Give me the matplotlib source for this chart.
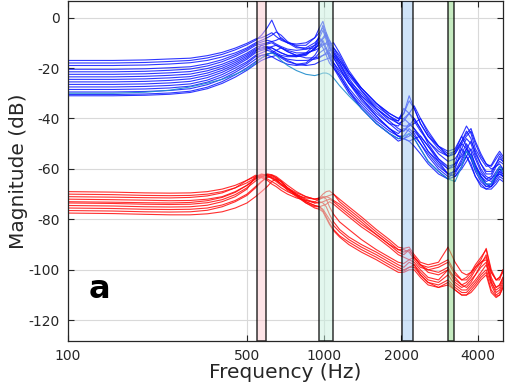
import matplotlib
matplotlib.use("Agg")
import matplotlib.pyplot as plt

# ---------------- data ----------------
FREQ = [100, 150, 200, 250, 300, 350, 400, 450, 500, 540, 570, 600, 625, 650, 680, 720,
        780, 850, 920, 960, 990, 1020, 1050, 1090, 1150, 1250, 1400, 1600, 1800, 1950,
        2050, 2150, 2250, 2380, 2550, 2800, 3050, 3250, 3450, 3600, 3750, 3900, 4100,
        4300, 4500, 4700, 4850, 5000]

blue_01 = [-17, -17, -16.8, -16.4, -16.1, -15.1, -13.8, -12.1, -10.2, -8.5, -8, -7, -6, -7.5, -9, -10,
           -10.5, -10, -8, -6, -4, -8, -12, -14, -17, -22, -28, -34, -38, -40,
           -38, -33, -36, -42, -47, -51, -53, -52, -47, -43, -46, -52, -56, -59, -58.5, -55, -53, -55]
blue_02 = [-18, -18, -17.8, -17.4, -17, -16, -14.6, -12.8, -10.8, -9, -7, -4, -1, -5, -8.5, -10,
           -11, -11, -8, -4, -1.5, -6, -11, -15, -19, -25, -30, -36, -40, -41,
           -36, -38, -41, -45, -49, -53, -55, -54, -50, -47, -45, -50, -55, -58, -59, -56, -54, -56]
blue_03 = [-19, -19, -18.8, -18.4, -17.9, -17, -15.6, -14, -12, -10, -9, -8, -7, -5.7, -7, -9.5,
           -11.5, -12.5, -12, -11, -10.5, -10.5, -10.5, -10, -14, -21, -28, -34, -38, -40,
           -40, -38, -35, -40, -46, -51, -54, -53, -49, -45, -48, -54, -58, -61, -61, -58, -56, -57]
blue_04 = [-20.5, -20.5, -20.3, -19.9, -19.5, -18.3, -16.7, -14.7, -12.5, -10.5, -9.7, -9, -9.5, -10.5, -11.5, -12.5,
           -13, -12.5, -11, -9.5, -8, -6, -9, -13, -17, -23, -29, -35, -39, -41,
           -38, -31, -36, -42, -47, -52, -55, -54, -49, -46, -44, -49, -54, -58, -60, -59, -57, -58]
blue_05 = [-21.5, -21.5, -21.3, -20.9, -20.4, -19.2, -17.5, -15.4, -13.1, -11, -10.5, -10, -9.5, -9, -8, -10,
           -12, -12, -10, -8, -10, -13, -16, -18, -21, -26, -31, -36, -40, -42,
           -43, -43, -42, -40, -45, -51, -55, -53, -47, -51, -55, -59, -62, -64, -63, -59, -58, -60]
blue_06 = [-22.5, -22.5, -22.3, -21.9, -21.4, -20.2, -18.5, -16.4, -14.1, -12, -11, -10.5, -10, -11, -12, -13,
           -14, -14, -13, -12, -11, -10, -9, -12, -16, -22, -28, -34, -39, -42,
           -41, -38, -40, -44, -49, -54, -57, -56, -52, -48, -50, -55, -60, -63, -64, -62, -60, -61]
blue_07 = [-23.5, -23.5, -23.3, -22.9, -22.4, -21.1, -19.3, -17.1, -14.7, -12.5, -12, -11.5, -12, -13, -14, -15,
           -15, -14, -11, -7, -3, -7, -12, -16, -20, -26, -32, -38, -42, -43,
           -40, -42, -44, -47, -51, -56, -59, -58, -55, -52, -49, -53, -58, -62, -62, -58, -55, -57]
blue_08 = [-24.5, -24.5, -24.3, -23.9, -23.4, -22, -20.1, -17.8, -15.3, -13, -12.5, -12, -11.5, -11, -12, -13.5,
           -15, -16, -16, -15.5, -15, -14, -13, -12, -15, -22, -29, -36, -41, -44,
           -45, -43, -40, -44, -50, -56, -60, -59, -54, -50, -53, -59, -63, -66, -66, -63, -61, -62]
blue_09 = [-25.5, -25.5, -25.3, -24.9, -24.3, -22.9, -20.9, -18.5, -15.9, -13.5, -11, -12, -13, -14, -15, -15.5,
           -15.5, -14.5, -12.5, -10, -8.5, -7, -10, -14, -18, -24, -31, -37, -42, -45,
           -45, -42, -44, -48, -53, -57, -60, -58, -50, -52, -56, -60, -63, -65, -64, -61, -59, -60]
blue_10 = [-26.5, -26.5, -26.3, -25.9, -25.3, -23.8, -21.7, -19.2, -16.5, -14, -13, -12.5, -12, -13, -14, -15,
           -15.5, -15, -12, -8, -5, -9, -14, -18, -22, -28, -34, -40, -44, -46,
           -44, -45, -47, -50, -54, -59, -62, -61, -58, -55, -52, -56, -61, -64, -65, -63, -62, -63]
blue_11 = [-27.5, -27.5, -27.3, -26.9, -26.3, -24.8, -22.6, -20, -17.5, -15, -14, -13, -13.5, -14.5, -15.5, -16.5,
           -17, -17, -16.5, -16, -15, -14.5, -14, -16, -20, -26, -33, -39, -44, -47,
           -48, -47, -45, -48, -53, -58, -62, -61, -56, -52, -55, -60, -64, -67, -66, -62, -60, -62]
blue_12 = [-28.5, -28.5, -28.3, -27.9, -27.2, -25.6, -23.5, -20.9, -18.1, -15.5, -15, -14.5, -14, -13, -12, -13.5,
           -15, -14.5, -12.5, -10, -12, -15, -18, -20, -23, -29, -35, -41, -45, -47,
           -47, -44, -46, -50, -55, -60, -63, -62, -57, -53, -56, -61, -65, -67, -67, -64, -62, -63]
blue_13 = [-29.5, -29.5, -29.3, -28.9, -28.2, -26.6, -24.4, -21.7, -18.9, -16.5, -15, -14.5, -14, -14.5, -15.5, -17,
           -18.5, -19, -18.5, -17.5, -17, -16.5, -16, -15, -18, -25, -32, -39, -44, -47,
           -48, -49, -48, -47, -51, -57, -62, -63, -60, -57, -54, -58, -63, -66, -67, -65, -63, -64]
blue_14 = [-30.5, -30.5, -30.3, -29.9, -29.2, -27.6, -25.4, -22.7, -19.9, -17.5, -16, -15, -15.5, -16.5, -17.5, -18.5,
           -19, -18.5, -16, -14, -13, -12, -15, -19, -23, -29, -36, -42, -46, -48,
           -48, -46, -48, -52, -57, -61, -64, -63, -59, -55, -58, -63, -67, -68, -68, -66, -64, -65]
blue_15 = [-31, -31, -30.8, -30.4, -29.7, -28.2, -26.1, -23.6, -20.9, -18.5, -17, -16, -15.5, -15, -16, -17.5,
           -18.5, -18, -15, -12, -9, -12, -16, -20, -24, -30, -36, -42, -46, -49,
           -48, -49, -51, -54, -58, -62, -64, -60, -52, -55, -59, -63, -66, -68, -67, -63, -61, -63]
teal_01 = [-30, -30, -29.6, -28.8, -27.5, -26, -24.5, -22.5, -20.5, -18, -16, -14.5, -14, -15, -17, -19,
           -21, -22.5, -23, -22.5, -22, -22, -22.5, -24, -27, -31, -36, -42, -46, -48,
           -47, -46, -48, -52, -57, -61, -64, -65, -59, -53, -55, -60, -64, -66, -66, -62, -59, -61]

red_01 = [-69, -69.2, -69.5, -69.6, -69.5, -69, -68, -66.5, -64.5, -63, -62, -62.5, -63.5, -64.5, -66, -67.5,
          -69.5, -71, -72, -71.5, -70, -69, -68.7, -70, -73, -76, -80, -85, -89, -92,
          -93, -92, -95, -98, -99, -98, -96, -101, -104, -103, -101, -98, -95, -92, -101, -104, -103, -100]
red_02 = [-70, -70.2, -70.5, -70.6, -70.5, -70, -69, -67.5, -65.5, -63.5, -62.5, -62, -62.3, -63, -64.5, -66.5,
          -69, -71, -72, -71.5, -71, -72, -75, -78, -81, -84, -88, -92, -95, -97,
          -97.5, -96, -97, -100, -103, -104, -100, -103, -106, -107, -105, -102, -98, -94, -103, -107, -106, -103]
red_03 = [-71, -71.2, -71.4, -71.5, -71.3, -70.7, -69.5, -67.5, -64.5, -62.5, -63, -64, -65, -66, -67.5, -69,
          -70.5, -71.5, -72, -72, -71.5, -71, -70.5, -70, -72, -75, -79, -84, -88, -91,
          -91.5, -91, -94, -97, -98, -97, -91, -97, -101, -102, -101, -99, -97, -95, -101, -104, -103, -101]
red_04 = [-72, -72.2, -72.4, -72.6, -72.5, -72, -71, -69, -66.5, -64, -63, -62.2, -62.5, -63.5, -65, -67.5,
          -70, -72.5, -73.5, -73, -73.5, -75, -78, -81, -84, -87, -90, -93, -96, -98,
          -99, -97, -98, -101, -104, -105, -102, -106, -108, -108, -106, -104, -101, -98, -105, -109, -108, -105]
red_05 = [-73, -73.2, -73.4, -73.5, -73.3, -72.6, -71.3, -69.3, -66.5, -63.8, -62.3, -62.8, -63.8, -65, -66.5, -68,
          -70, -72, -73.5, -73.5, -73, -72.5, -72, -73, -75, -78, -82, -86, -90, -93,
          -94, -92, -95, -98, -100, -101, -99, -104, -106, -105, -103, -100, -97, -96, -104, -107, -106, -103]
red_06 = [-73.5, -73.7, -74, -74.1, -74, -73.4, -72.2, -70.2, -67.5, -64.8, -63.3, -62.5, -63, -64, -66, -68.5,
          -71, -73.5, -75, -75, -76, -78, -80, -82.5, -85, -88, -91, -94, -97, -99,
          -100, -99, -98, -102, -105, -106, -104, -107, -109, -109, -107, -105, -102, -100, -106, -110, -109, -106]
red_07 = [-74.5, -74.7, -75, -75.1, -75, -74.4, -73, -71, -68, -63, -63.5, -64.5, -66, -67, -68.5, -70,
          -71.5, -72.5, -73, -72, -71.2, -71, -71.5, -72.5, -74, -77, -81, -86, -90, -92,
          -92, -93, -96, -99, -100, -99, -97, -102, -104, -104, -102, -99, -96, -91.5, -100, -104, -104, -100]
red_08 = [-75.5, -75.7, -76, -76.1, -76, -75.5, -74.3, -72.5, -70, -67, -65, -63.5, -62.5, -63.5, -65, -67.5,
          -70.5, -73, -74.5, -75, -76.5, -79, -81.5, -84, -86.5, -89, -92, -95, -98, -100,
          -100.5, -99, -99, -102, -105, -107, -105, -108, -110, -110, -108, -106, -103, -101, -108, -110.5, -110, -107]
red_09 = [-76.5, -76.7, -77, -77.1, -77, -76.4, -75, -73, -70.5, -67.5, -65, -63, -63.5, -64.5, -66, -68,
          -70.5, -73, -74.5, -75, -74.5, -74, -73, -74, -76, -79, -83, -87, -91, -94,
          -95, -96, -95, -98, -101, -102, -100, -105, -107, -106, -104, -102, -99, -97, -105, -108, -107, -104]
red_10 = [-77.5, -77.7, -78, -78.2, -78.2, -77.8, -77, -75.5, -73.5, -71, -69, -67, -65, -64, -65, -67.5,
          -70.5, -73.5, -75.5, -76, -77, -79.5, -82, -84.5, -87, -90, -93, -96, -99, -101,
          -101, -100, -100, -103, -106, -107, -106, -108, -110, -110, -109, -107, -104, -102, -109, -111, -110, -107]

BLUE_CURVES = [blue_01, blue_02, blue_03, blue_04, blue_05, blue_06, blue_07, blue_08,
               blue_09, blue_10, blue_11, blue_12, blue_13, blue_14, blue_15]
TEAL_CURVES = [teal_01]
RED_CURVES = [red_01, red_02, red_03, red_04, red_05, red_06, red_07, red_08, red_09, red_10]

BAND_LO = [545, 955, 2014, 3055]
BAND_HI = [593, 1086, 2233, 3230]
BAND_COLORS = ["#fcc8ce", "#c8f0de", "#a0c8f2", "#8cd782"]

XTICKS = [100, 500, 1000, 2000, 4000]
XTICK_LABELS = ["100", "500", "1000", "2000", "4000"]
YTICKS = [-120, -100, -80, -60, -40, -20, 0]

# ---------------- figure ----------------
plt.rcParams["font.family"] = ["DejaVu Sans"]
plt.rcParams["axes.unicode_minus"] = False

fig = plt.figure(figsize=(5.05, 3.91), dpi=100)
ax = fig.add_axes([0.1347, 0.128, 0.8613, 0.869])

for c in BLUE_CURVES:
    ax.plot(FREQ, c, color="#0a14ff", lw=0.8, alpha=0.85, zorder=2)
for c in TEAL_CURVES:
    ax.plot(FREQ, c, color="#1e8ccc", lw=0.8, alpha=0.9, zorder=2)
for c in RED_CURVES:
    ax.plot(FREQ, c, color="#ff0a0a", lw=0.8, alpha=0.85, zorder=2)

for lo, hi, col in zip(BAND_LO, BAND_HI, BAND_COLORS):
    ax.axvspan(lo, hi, facecolor=matplotlib.colors.to_rgba(col, 0.5),
               edgecolor=(0, 0, 0, 0.8), lw=1.1, zorder=3)

ax.set_xscale("log")
ax.set_xlim(100, 5000)
ax.set_ylim(-128.2, 6.5)
ax.set_xticks(XTICKS)
ax.set_xticklabels(XTICK_LABELS)
ax.xaxis.set_minor_locator(matplotlib.ticker.NullLocator())
ax.set_yticks(YTICKS)
ax.grid(True, color="#d9d9d9", lw=0.8, zorder=0)
ax.set_axisbelow(True)
ax.tick_params(direction="in", length=4, width=0.8, top=True, right=True,
               labelsize=10, labelcolor="#262626", color="#262626", pad=6)
for s in ax.spines.values():
    s.set_color("#262626")
    s.set_linewidth(0.9)

ax.set_xlabel("Frequency (Hz)", fontsize=14.5, color="#262626", labelpad=0)
ax.set_ylabel("Magnitude (dB)", fontsize=14.5, color="#262626", labelpad=0)

ax.text(133, -108, "a", fontsize=23, fontweight="bold", color="black",
        ha="center", va="center", zorder=5)

fig.savefig("out.png", dpi=100)
